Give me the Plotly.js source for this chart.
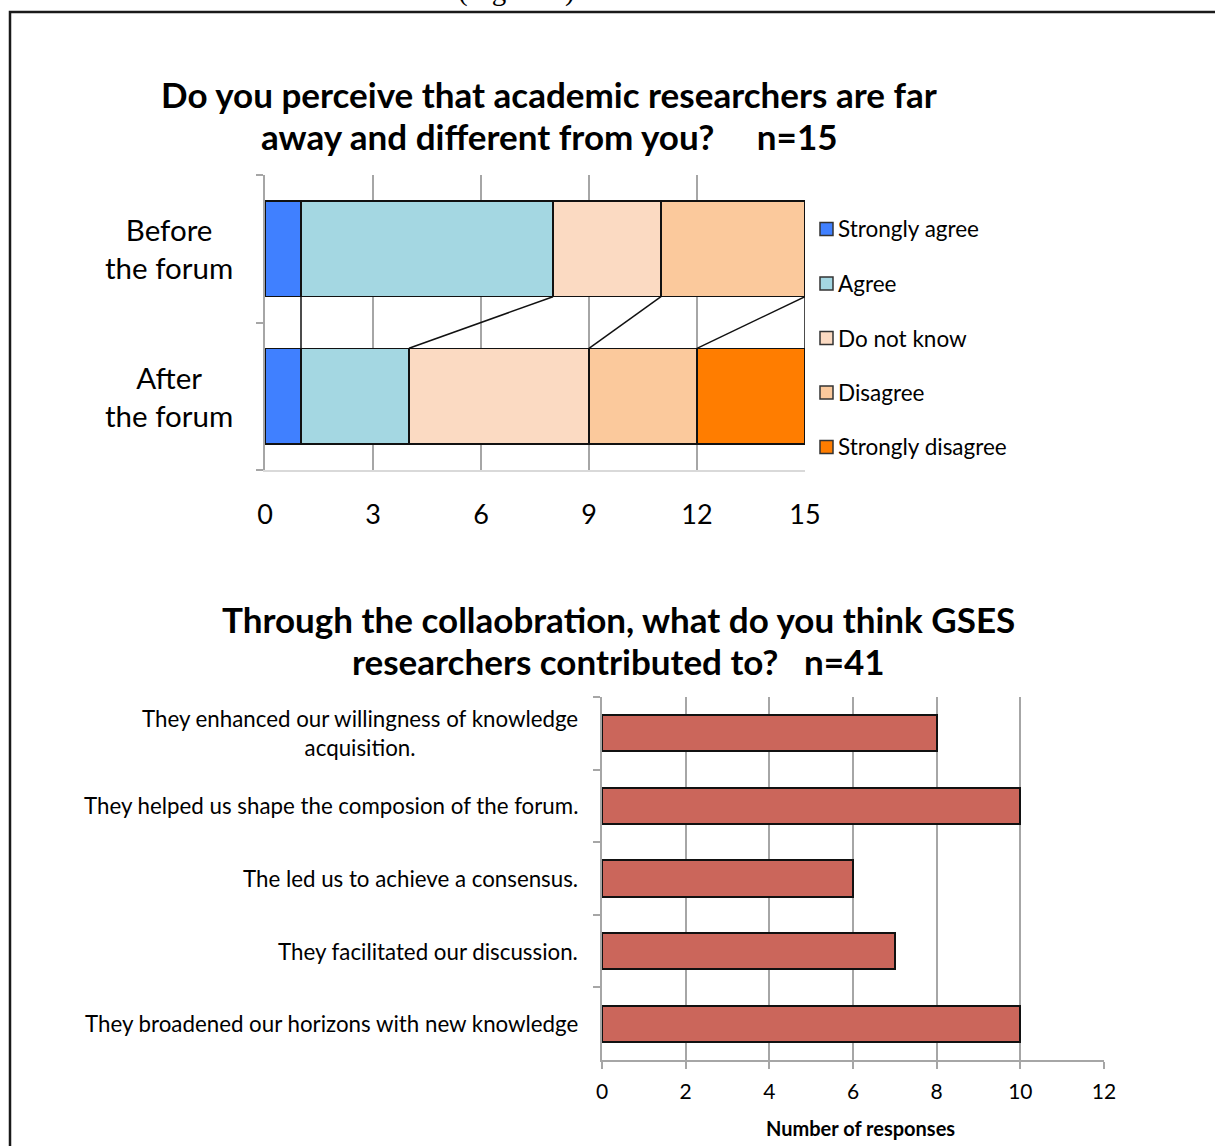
<!DOCTYPE html>
<html>
<head>
<meta charset="utf-8">
<script src="https://cdn.plot.ly/plotly-3.0.1.min.js"></script>
<style>
  html, body { margin: 0; padding: 0; background: #ffffff; }
  #chart { width: 1215px; height: 1146px; }
</style>
</head>
<body>
<div id="chart"></div>
<script>
// Survey 1: perception of academic researchers (n=15)
const stages = ['Before<br>the forum', 'After<br>the forum'];
const responses = ['Strongly agree', 'Agree', 'Do not know', 'Disagree', 'Strongly disagree'];
const beforeCounts = [1, 7, 3, 4, 0];
const afterCounts = [1, 3, 5, 3, 3];
const responseColors = ['#4080FF', '#A4D7E2', '#FBDAC2', '#FBC99C', '#FF7D00'];
const title1Lines = [
  'Do you perceive that academic researchers are far',
  'away and different from you?\u00a0\u00a0\u00a0\u00a0 n=15'
];

// Survey 2: contribution of GSES researchers (n=41)
const contributions = [
  'They enhanced our willingness of knowledge<br>acquisition.',
  'They helped us shape the composion of the forum.',
  'The led us to achieve a consensus.',
  'They facilitated our discussion.',
  'They broadened our horizons with new knowledge'
];
const contributionCounts = [8, 10, 6, 7, 10];
const title2Lines = [
  'Through the collaobration, what do you think GSES',
  'researchers contributed to?\u00a0\u00a0 n=41'
];
const xTicks1 = [0, 3, 6, 9, 12, 15];
const xTicks2 = [0, 2, 4, 6, 8, 10, 12];

const W = 1215, H = 1146;
const px = x => x / W;
const py = y => 1 - y / H;
const FONT = 'Lato, "Open Sans", sans-serif';
const GRID = '#A6A6A6';
const BAR_W = 0.65;

const traces = [];

// stacked bars, one trace per response
responses.forEach((r, k) => {
  traces.push({
    type: 'bar', orientation: 'h', name: r,
    y: stages.map((_, i) => i),
    x: [beforeCounts[k], afterCounts[k]],
    width: BAR_W,
    marker: { color: responseColors[k], line: { color: '#111111', width: 1.5 } },
    xaxis: 'x', yaxis: 'y', showlegend: false, hoverinfo: 'x+name'
  });
});

// series lines joining the segment ends of the two bars
const cum = arr => { let s = 0; return arr.map(v => (s += v)); };
const cb = cum(beforeCounts), ca = cum(afterCounts);
const slx = [], sly = [];
cb.forEach((v, k) => {
  slx.push(v, ca[k], null);
  sly.push(0 + BAR_W / 2, 1 - BAR_W / 2, null);
});
traces.push({
  type: 'scatter', mode: 'lines', x: slx, y: sly,
  line: { color: '#111111', width: 1.5 },
  xaxis: 'x', yaxis: 'y', showlegend: false, hoverinfo: 'skip'
});

// contribution bars
traces.push({
  type: 'bar', orientation: 'h',
  y: contributions, x: contributionCounts, width: 0.5,
  marker: { color: '#CB665B', line: { color: '#111111', width: 2 } },
  xaxis: 'x2', yaxis: 'y2', showlegend: false, hoverinfo: 'x'
});

const annotations = [];
const shapes = [];

// outer frame
shapes.push({
  type: 'rect', xref: 'paper', yref: 'paper',
  x0: px(10), x1: px(1230), y0: py(12), y1: py(1170),
  line: { color: '#1a1a1a', width: 2.5 }, fillcolor: 'rgba(0,0,0,0)'
});

// caption above the frame
annotations.push({
  xref: 'paper', yref: 'paper', x: px(516), y: py(-10), xanchor: 'center', yanchor: 'middle',
  text: '(Figure 4)', showarrow: false,
  font: { family: '"Liberation Serif", serif', size: 29, color: '#000' }
});

// titles, one annotation per line
const addTitle = (lines, cx, ys) => lines.forEach((t, i) => {
  annotations.push({
    xref: 'paper', yref: 'paper', x: px(cx), y: py(ys[i]), xanchor: 'center', yanchor: 'middle',
    text: '<b>' + t + '</b>', showarrow: false,
    font: { family: FONT, size: 35, color: '#000' }
  });
});
addTitle(title1Lines, 549, [94, 136]);
addTitle(title2Lines, 619, [619, 661]);

// stage labels
stages.forEach((s, i) => {
  annotations.push({
    xref: 'paper', yref: 'y', x: px(169), y: i, xanchor: 'center', yanchor: 'middle',
    text: s, showarrow: false, align: 'center',
    font: { family: FONT, size: 29.5, color: '#000' }
  });
});

// legend
responses.forEach((r, k) => {
  const cy = 229 + 54.5 * k;
  shapes.push({
    type: 'rect', xref: 'paper', yref: 'paper',
    x0: px(820), x1: px(833), y0: py(cy - 6.5), y1: py(cy + 6.5),
    fillcolor: responseColors[k], line: { color: '#333333', width: 1.5 }
  });
  annotations.push({
    xref: 'paper', yref: 'paper', x: px(836), y: py(cy), xanchor: 'left', yanchor: 'middle',
    text: r, showarrow: false, font: { family: FONT, size: 22.5, color: '#000' }
  });
});

// contribution labels
contributions.forEach(c => {
  annotations.push({
    xref: 'paper', yref: 'y2', x: px(580), y: c, xanchor: 'right', yanchor: 'middle',
    text: c, showarrow: false, align: 'center',
    font: { family: FONT, size: 22.3, color: '#000' }
  });
});

// x-axis title of the lower chart
annotations.push({
  xref: 'paper', yref: 'paper', x: px(861), y: py(1128), xanchor: 'center', yanchor: 'middle',
  text: '<b>Number of responses</b>', showarrow: false,
  font: { family: FONT, size: 20, color: '#000' }
});

const layout = {
  width: W, height: H,
  margin: { l: 0, r: 0, t: 0, b: 0 },
  paper_bgcolor: '#ffffff', plot_bgcolor: 'rgba(0,0,0,0)',
  barmode: 'stack', showlegend: false,
  font: { family: FONT, color: '#000' },
  xaxis: {
    domain: [px(265), px(805)], anchor: 'y', range: [0, 15],
    tickvals: xTicks1, ticktext: xTicks1.map(String),
    showgrid: true, gridcolor: GRID, gridwidth: 2, zeroline: false,
    showline: true, linecolor: '#D9D9D9', linewidth: 1.5,
    ticks: '', tickfont: { family: FONT, size: 27, color: '#000' },
    ticklabelstandoff: 20
  },
  yaxis: {
    domain: [py(470), py(175)], anchor: 'x', range: [1.5, -0.5],
    tickvals: [-0.5, 0.5, 1.5], showticklabels: false,
    ticks: 'outside', ticklen: 7, tickcolor: GRID, tickwidth: 2,
    showgrid: false, zeroline: false,
    showline: true, linecolor: GRID, linewidth: 2
  },
  xaxis2: {
    domain: [px(602), px(1104)], anchor: 'y2', range: [0, 12],
    tickvals: xTicks2, ticktext: xTicks2.map(String),
    showgrid: true, gridcolor: GRID, gridwidth: 2, zeroline: false,
    showline: true, linecolor: GRID, linewidth: 2,
    ticks: 'outside', ticklen: 7, tickcolor: GRID, tickwidth: 2,
    tickfont: { family: FONT, size: 21, color: '#000' },
    ticklabelstandoff: 5
  },
  yaxis2: {
    domain: [py(1060), py(697)], anchor: 'x2', type: 'category',
    categoryarray: contributions, autorange: 'reversed',
    tickson: 'boundaries', ticks: 'outside', ticklen: 7, tickcolor: GRID, tickwidth: 2,
    showticklabels: false, showgrid: false, zeroline: false,
    showline: true, linecolor: GRID, linewidth: 2
  },
  shapes: shapes,
  annotations: annotations
};

Plotly.newPlot('chart', traces, layout, { displayModeBar: false, staticPlot: true });
</script>
</body>
</html>
